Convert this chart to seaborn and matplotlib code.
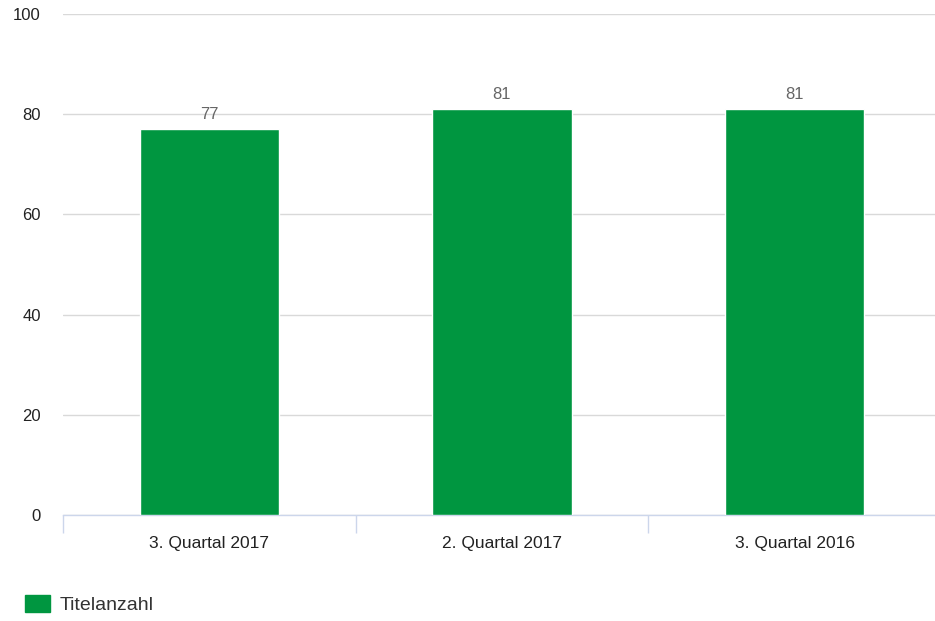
import matplotlib
matplotlib.use("Agg")
import matplotlib.pyplot as plt
import matplotlib.patches as mpatches
import numpy as np
import pandas as pd
import seaborn as sns

categories = ["3. Quartal 2017", "2. Quartal 2017", "3. Quartal 2016"]
values = [77, 81, 81]
series_name = "Titelanzahl"
y_ticks = [0, 20, 40, 60, 80, 100]

GREEN = "#009640"

sns.set_theme(style="white")
plt.rcParams["font.family"] = ["Liberation Sans", "DejaVu Sans"]

df = pd.DataFrame({"quartal": categories, "count": values})

W, H = 935, 621
fig = plt.figure(figsize=(W / 100, H / 100), dpi=100)
# plot area in pixels: x 63..941 (runs past the right edge), y 14..515
ax = fig.add_axes([63 / W, 1 - 515 / H, (941 - 63) / W, (515 - 14) / H])

sns.barplot(data=df, x="quartal", y="count", color=GREEN, width=0.475,
            saturation=1, ax=ax, zorder=3)

ax.set_ylim(0, 100)
ax.set_xlim(-0.5, len(categories) - 0.5)
ax.set_yticks(y_ticks)
ax.yaxis.grid(True, color="#d9d9d9", linewidth=1, zorder=0)
ax.set_xlabel("")
ax.set_ylabel("")

for s in ["top", "right", "left"]:
    ax.spines[s].set_visible(False)
ax.spines["bottom"].set_color("#ccd6eb")
ax.spines["bottom"].set_linewidth(1)

ax.tick_params(axis="y", length=0, pad=16, labelsize=12, labelcolor="#222222")
ax.tick_params(axis="x", which="major", length=0, pad=15, labelsize=12.5,
               labelcolor="#222222")

# category boundary ticks
bounds = np.arange(len(categories) + 1) - 0.5
ax.set_xticks(bounds, minor=True)
ax.tick_params(axis="x", which="minor", bottom=True, length=13, width=1,
               color="#ccd6eb")

for i, v in enumerate(values):
    ax.text(i, v + 1.5, str(v), ha="center", va="bottom", fontsize=12,
            color="#666666", zorder=4)

handle = mpatches.Patch(color=GREEN, label=series_name)
fig.legend(handles=[handle], loc="center left",
           bbox_to_anchor=(25 / W, 1 - 604.5 / H), borderaxespad=0,
           borderpad=0, frameon=False, fontsize=14, handlelength=1.29,
           handleheight=1.0, handletextpad=0.5, labelcolor="#333333")

fig.savefig("out.png", dpi=100)
